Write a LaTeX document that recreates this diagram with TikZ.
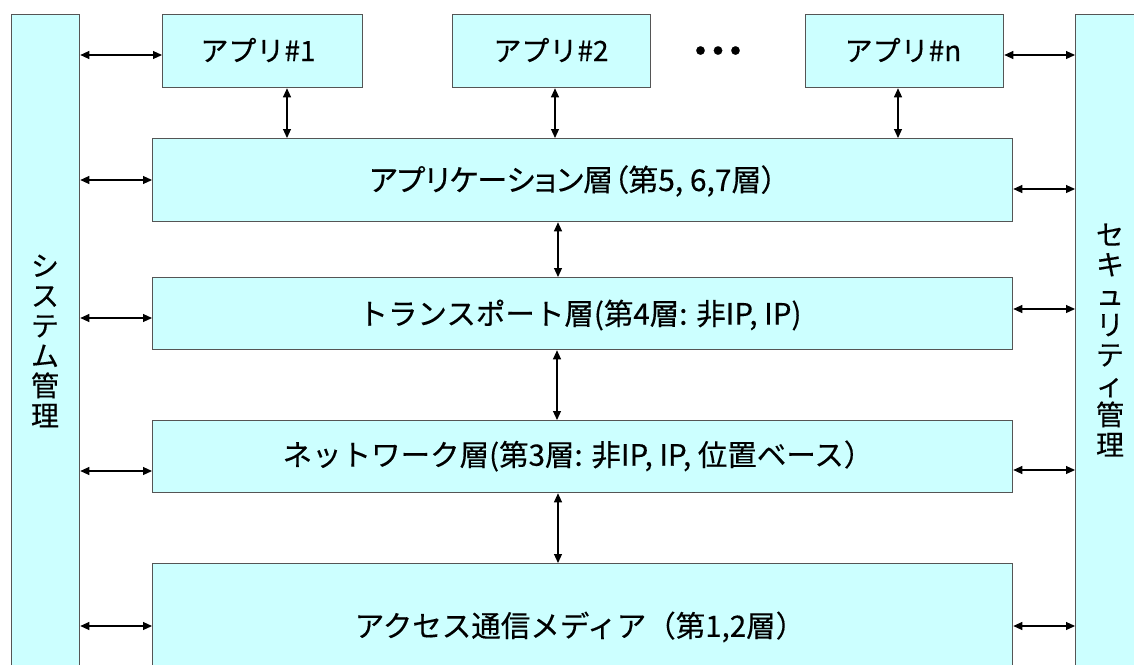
\documentclass[tikz,border=0pt]{standalone}
\usepackage{fontspec}
\setmainfont{Noto Sans CJK JP}[FakeBold=0.3]
\newfontfamily\palfont{Noto Sans CJK JP}[RawFeature=+palt,FakeBold=0.3]
\usetikzlibrary{arrows.meta}
\definecolor{boxfill}{HTML}{CCFFFF}
\definecolor{boxline}{HTML}{555555}
\begin{document}
\begin{tikzpicture}[x=1pt,y=-1pt,
  box/.style={draw=boxline,fill=boxfill,line width=1.3pt,rectangle,inner sep=0pt,anchor=north west},
  arr/.style={{Triangle[length=9pt,width=8pt]}-{Triangle[length=9pt,width=8pt]},line width=1.1pt,black},
  lbl/.style={font=\fontsize{28}{30}\selectfont,inner sep=0pt,align=center},
  wide/.style={font=\fontsize{29.5}{30}\selectfont}]
\useasboundingbox (0,0) rectangle (1134,664);
\clip (0,0) rectangle (1134,664);
\fill[white] (0,0) rectangle (1134,664);
% columns
\node[box,minimum width=68pt,minimum height=700pt] (sys) at (11,14) {};
\node[box,minimum width=68pt,minimum height=700pt] (sec) at (1075,14) {};
% apps
\node[box,minimum width=200pt,minimum height=73pt] (app1) at (162,14) {};
\node[box,minimum width=198pt,minimum height=73pt] (app2) at (452,14) {};
\node[box,minimum width=198pt,minimum height=73pt] (appn) at (805,14) {};
% layers
\node[box,minimum width=860pt,minimum height=83pt] (alay) at (152,138) {};
\node[box,minimum width=860pt,minimum height=72pt] (tlay) at (152,277) {};
\node[box,minimum width=860pt,minimum height=72pt] (nlay) at (152,420) {};
\node[box,minimum width=860pt,minimum height=150pt] (mlay) at (152,563) {};
% texts
\node[lbl] (tsys) at (45,341) {シ\\ス\\テ\\ム\\管\\理};
\node[lbl] (tsec) at (1110,340) {セ\\キ\\ュ\\リ\\テ\\ィ\\管\\理};
\node[lbl] (tapp1) at (258,50) {アプリ\#1};
\node[lbl] (tapp2) at (551,50) {アプリ\#2};
\node[lbl] (tappn) at (903,50) {アプリ\#n};
\node[lbl,font=\fontsize{40}{40}\selectfont] (tdots) at (718,56) {・\kern-22.5pt・\kern-22.5pt・};
\node[lbl,font=\fontsize{30}{30}\palfont] (talay) at (573,181) {アプリケーション層（第5, 6,7層）};
\node[lbl,wide] (ttlay) at (580,315) {トランスポート層(第4層: 非IP, IP)};
\node[lbl,wide] (tnlay) at (578,456) {ネットワーク層(第3層: 非IP, IP, 位置ベース）};
\node[lbl,wide] (tmlay) at (580,627) {アクセス通信メディア（第1,2層）};
% left arrows
\draw[arr] (sys.east |- 0,55) -- (app1.west |- 0,55);
\draw[arr] (sys.east |- 0,180) -- (alay.west |- 0,180);
\draw[arr] (sys.east |- 0,318) -- (tlay.west |- 0,318);
\draw[arr] (sys.east |- 0,471) -- (nlay.west |- 0,471);
\draw[arr] (sys.east |- 0,626) -- (mlay.west |- 0,626);
% right arrows
\draw[arr] (appn.east |- 0,55) -- (sec.west |- 0,55);
\draw[arr] (alay.east |- 0,189) -- (sec.west |- 0,189);
\draw[arr] (tlay.east |- 0,309) -- (sec.west |- 0,309);
\draw[arr] (nlay.east |- 0,470) -- (sec.west |- 0,470);
\draw[arr] (mlay.east |- 0,626) -- (sec.west |- 0,626);
% vertical arrows
\draw[arr] (app1.south -| 287,0) -- (alay.north -| 287,0);
\draw[arr] (app2.south -| 555,0) -- (alay.north -| 555,0);
\draw[arr] (appn.south -| 898,0) -- (alay.north -| 898,0);
\draw[arr] (alay.south -| 558,0) -- (tlay.north -| 558,0);
\draw[arr] (tlay.south -| 557,0) -- (nlay.north -| 557,0);
\draw[arr] (nlay.south -| 558,0) -- (mlay.north -| 558,0);
\end{tikzpicture}
\end{document}
